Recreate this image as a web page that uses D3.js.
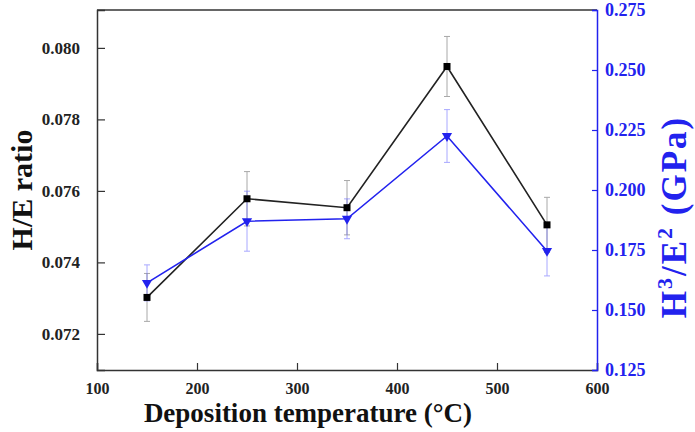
<!DOCTYPE html>
<html>
<head>
<meta charset="utf-8">
<script src="https://cdn.jsdelivr.net/npm/d3@7"></script>
<style>
  body { margin: 0; background: #fff; }
</style>
</head>
<body>
<div id="chart"></div>
<script>
var width = 695,
    height = 432;
var serif = "'Liberation Serif', 'Times New Roman', serif";

// data
var temps = [150, 250, 350, 450, 550];
var heRatio = [0.07302, 0.07578, 0.07553, 0.07948, 0.07505];
var heErr = [0.00067, 0.00076, 0.00076, 0.00084, 0.00077];
var h3e2 = [0.1613, 0.1870, 0.1880, 0.2225, 0.1746];
var h3e2Err = [0.0075, 0.0125, 0.0083, 0.011, 0.0104];

var xTicks = [100, 200, 300, 400, 500, 600];
var leftTicks = [0.072, 0.074, 0.076, 0.078, 0.080];
var rightTicks = [0.125, 0.150, 0.175, 0.200, 0.225, 0.250, 0.275];

// plot box (window.top is reserved, so use other names)
var pLeft = 97, pRight = 597, pTop = 10, pBottom = 370;
var blue = "#2222ee", dark = "#333";

var x = d3.scaleLinear().domain([100, 600]).range([pLeft, pRight]);
var yL = d3.scaleLinear().domain([0.07099, 0.08106]).range([pBottom, pTop]);
var yR = d3.scaleLinear().domain([0.125, 0.275]).range([pBottom, pTop]);

var svg = d3.select("#chart").append("svg")
    .attr("width", width)
    .attr("height", height)
    .attr("font-family", serif)
    .attr("font-weight", "bold");

// frame top line
svg.append("line")
    .attr("x1", pLeft).attr("x2", pRight)
    .attr("y1", pTop).attr("y2", pTop)
    .attr("stroke", dark).attr("stroke-width", 1.5);

// bottom axis
var gx = svg.append("g")
    .attr("transform", "translate(0," + pBottom + ")")
    .call(d3.axisBottom(x).tickValues(xTicks).tickSize(-7).tickPadding(13).tickFormat(d3.format("d")));
gx.attr("font-family", serif);
gx.select(".domain").attr("stroke", dark).attr("stroke-width", 1.5);
gx.selectAll(".tick line").attr("stroke", dark).attr("stroke-width", 1.2);
gx.selectAll("text").attr("font-size", 16).attr("fill", "#222");

// left axis
var gl = svg.append("g")
    .attr("transform", "translate(" + pLeft + ",0)")
    .call(d3.axisLeft(yL).tickValues(leftTicks).tickSize(-8).tickPadding(17).tickFormat(d3.format(".3f")));
gl.attr("font-family", serif);
gl.select(".domain").attr("stroke", dark).attr("stroke-width", 1.5);
gl.selectAll(".tick line").attr("stroke", dark).attr("stroke-width", 1.2);
gl.selectAll("text").attr("font-size", 17).attr("fill", "#222");

// right axis
var gr = svg.append("g")
    .attr("transform", "translate(" + pRight + ",0)")
    .call(d3.axisRight(yR).tickValues(rightTicks).tickSize(-5).tickPadding(8).tickFormat(d3.format(".3f")));
gr.attr("font-family", serif);
gr.select(".domain").attr("stroke", blue).attr("stroke-width", 1.5);
gr.selectAll(".tick line").attr("stroke", blue).attr("stroke-width", 1.2);
gr.selectAll("text").attr("font-size", 18).attr("fill", blue);

// error bars
function errorBars(vals, errs, y, color) {
  var g = svg.append("g").attr("stroke", color).attr("stroke-width", 1).attr("opacity", 0.5);
  temps.forEach(function(t, i) {
    var cx = x(t), y1 = y(vals[i] - errs[i]), y2 = y(vals[i] + errs[i]);
    g.append("line").attr("x1", cx).attr("x2", cx).attr("y1", y1).attr("y2", y2);
    g.append("line").attr("x1", cx - 3).attr("x2", cx + 3).attr("y1", y1).attr("y2", y1);
    g.append("line").attr("x1", cx - 3).attr("x2", cx + 3).attr("y1", y2).attr("y2", y2);
  });
}
errorBars(heRatio, heErr, yL, "#555");
errorBars(h3e2, h3e2Err, yR, "#5555ff");

var lineL = d3.line().x(function(d, i) { return x(temps[i]); }).y(function(d) { return yL(d); });
var lineR = d3.line().x(function(d, i) { return x(temps[i]); }).y(function(d) { return yR(d); });

svg.append("path").datum(heRatio).attr("d", lineL)
    .attr("fill", "none").attr("stroke", "#222").attr("stroke-width", 1.6);
svg.append("path").datum(h3e2).attr("d", lineR)
    .attr("fill", "none").attr("stroke", blue).attr("stroke-width", 1.6);

// markers
svg.selectAll(".sq").data(heRatio).enter().append("rect")
    .attr("x", function(d, i) { return x(temps[i]) - 3.5; })
    .attr("y", function(d) { return yL(d) - 3.5; })
    .attr("width", 7).attr("height", 7)
    .attr("fill", "#000");

var tri = d3.symbol().type(d3.symbolTriangle).size(45);
svg.selectAll(".tri").data(h3e2).enter().append("path")
    .attr("d", tri)
    .attr("transform", function(d, i) { return "translate(" + x(temps[i]) + "," + yR(d) + ") rotate(180)"; })
    .attr("fill", blue);

// axis titles
svg.append("text")
    .attr("x", 308).attr("y", 422)
    .attr("text-anchor", "middle")
    .attr("font-size", 27)
    .attr("fill", "#111")
    .text("Deposition temperature (°C)");

svg.append("text")
    .attr("transform", "translate(32,190) rotate(-90)")
    .attr("text-anchor", "middle")
    .attr("font-size", 30)
    .attr("fill", "#111")
    .text("H/E ratio");

var rt = svg.append("text")
    .attr("transform", "translate(686,217) rotate(-90)")
    .attr("text-anchor", "middle")
    .attr("font-size", 35)
    .attr("letter-spacing", 2)
    .attr("fill", blue);
rt.append("tspan").text("H");
rt.append("tspan").attr("dy", -14).attr("font-size", 22).text("3");
rt.append("tspan").attr("dy", 14).text("/E");
rt.append("tspan").attr("dy", -14).attr("font-size", 22).text("2");
rt.append("tspan").attr("dy", 14).text(" (GPa)");
</script>
</body>
</html>
